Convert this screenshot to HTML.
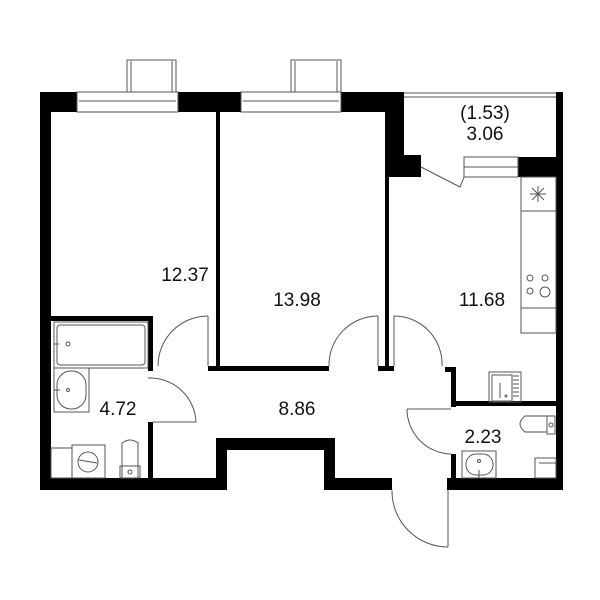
<!DOCTYPE html>
<html><head><style>body{margin:0;background:#fff}svg{display:block}text{font-family:"Liberation Sans",sans-serif;font-size:19px;fill:#111;text-anchor:middle}</style></head><body>
<svg width="600" height="600" viewBox="0 0 600 600" xmlns="http://www.w3.org/2000/svg">
<g fill="#000">
<rect x="40" y="92" width="11" height="398"/>
<rect x="40" y="92" width="37" height="20"/>
<rect x="178" y="92" width="63" height="20"/>
<rect x="341" y="92" width="63" height="20"/>
<rect x="385" y="92" width="19" height="65"/>
<rect x="385" y="155" width="36" height="22"/>
<rect x="518" y="157" width="45" height="20"/>
<rect x="556" y="92" width="7" height="398"/>
<rect x="216" y="112" width="4" height="259"/>
<rect x="385" y="177" width="4" height="194"/>
<rect x="378" y="366" width="16" height="5"/>
<rect x="208" y="366" width="121" height="5"/>
<rect x="445" y="367" width="11" height="5"/>
<rect x="451" y="367" width="5" height="40"/>
<rect x="451" y="401" width="105" height="5"/>
<rect x="451" y="454" width="5" height="36"/>
<rect x="447" y="478" width="116" height="12"/>
<rect x="40" y="316" width="113" height="5"/>
<rect x="148" y="316" width="5" height="55"/>
<rect x="148" y="422" width="5" height="60"/>
<rect x="40" y="478" width="187" height="12"/>
<rect x="216" y="438" width="11" height="52"/>
<rect x="216" y="438" width="119" height="12"/>
<rect x="324" y="438" width="11" height="52"/>
<rect x="324" y="478" width="68" height="12"/>
</g>
<g fill="none" stroke="#555" stroke-width="1">
<rect x="77" y="92" width="101" height="20"/><line x1="79" y1="101" x2="176" y2="101"/>
<rect x="127" y="60" width="49" height="32"/><line x1="131" y1="61" x2="131" y2="92"/><line x1="172" y1="61" x2="172" y2="92"/>
<rect x="241" y="92" width="100" height="20"/><line x1="243" y1="101" x2="339" y2="101"/>
<rect x="291" y="60" width="50" height="32"/><line x1="295" y1="61" x2="295" y2="92"/><line x1="337" y1="61" x2="337" y2="92"/>
<line x1="404" y1="93" x2="556" y2="93"/><line x1="404" y1="97" x2="556" y2="97"/>
<rect x="464" y="157" width="54" height="20"/><line x1="464" y1="167" x2="518" y2="167"/>
<polyline points="421,167 460,187 464,177"/>
<rect x="521" y="177" width="35" height="156"/>
<line x1="521" y1="211" x2="556" y2="211"/><line x1="521" y1="308" x2="556" y2="308"/>
<line x1="530" y1="194" x2="546" y2="194"/><line x1="538" y1="186" x2="538" y2="202"/><line x1="532" y1="188" x2="544" y2="200"/><line x1="544" y1="188" x2="532" y2="200"/>
<circle cx="530" cy="278" r="3"/><circle cx="545" cy="278" r="3"/><circle cx="530" cy="291" r="3"/><circle cx="545" cy="292" r="5"/>
<rect x="489" y="372" width="32" height="30"/><rect x="492" y="375" width="20" height="26"/><line x1="513" y1="376" x2="519" y2="376"/><line x1="513" y1="380" x2="519" y2="380"/><line x1="513" y1="384" x2="519" y2="384"/><line x1="513" y1="388" x2="519" y2="388"/><line x1="513" y1="392" x2="519" y2="392"/><line x1="513" y1="396" x2="519" y2="396"/><line x1="500" y1="383" x2="500" y2="398"/><circle cx="506" cy="396" r="1"/>
<line x1="208" y1="316" x2="208" y2="366"/><path d="M208,316 A50,50 0 0 0 158,366"/>
<line x1="378" y1="316" x2="378" y2="366"/><path d="M378,316 A49,49 0 0 0 329,366"/>
<line x1="394" y1="316" x2="394" y2="366"/><path d="M394,316 A48,48 0 0 1 442,366"/>
<line x1="148" y1="378" x2="153" y2="378"/><path d="M150,378 A46,46 0 0 1 196,422 L153,422"/>
<line x1="407" y1="409" x2="451" y2="409"/><path d="M407,409 A45,45 0 0 0 451,454"/>
<line x1="448" y1="490" x2="448" y2="547"/><path d="M392,490 A56,56 0 0 0 448,547"/>
<rect x="54" y="322" width="94" height="46"/><rect x="57" y="325" width="88" height="40" rx="3"/><line x1="54" y1="344" x2="59" y2="344"/><circle cx="68" cy="344" r="2"/>
<rect x="54" y="368" width="35" height="44"/><rect x="57" y="371" width="29" height="38" rx="14"/><circle cx="68" cy="390" r="1.5"/><line x1="54" y1="390" x2="60" y2="390"/>
<rect x="51" y="448" width="21" height="30"/><rect x="72" y="445" width="33" height="33"/><circle cx="88" cy="462" r="10"/><line x1="79" y1="460" x2="97" y2="463"/>
<path d="M122,478 V443 Q130,437 138,443 V478"/><rect x="120" y="466" width="20" height="12"/><circle cx="130" cy="472" r="2"/>
<path d="M547,416 H525 Q515,424 525,432 H547 Z"/><rect x="547" y="416" width="8" height="18"/><circle cx="551" cy="425" r="2"/>
<rect x="462" y="451" width="34" height="27"/><rect x="466" y="454" width="27" height="21" rx="10"/><circle cx="479" cy="461" r="1.5"/><line x1="479" y1="470" x2="479" y2="478"/>
<rect x="535" y="458" width="21" height="20"/><line x1="539" y1="463" x2="556" y2="463"/>
</g>
<text x="185" y="281">12.37</text>
<text x="297" y="306">13.98</text>
<text x="482" y="306">11.68</text>
<text x="485" y="119">(1.53)</text>
<text x="485" y="140">3.06</text>
<text x="118" y="415">4.72</text>
<text x="297" y="415">8.86</text>
<text x="483" y="443">2.23</text>
</svg>
</body></html>
